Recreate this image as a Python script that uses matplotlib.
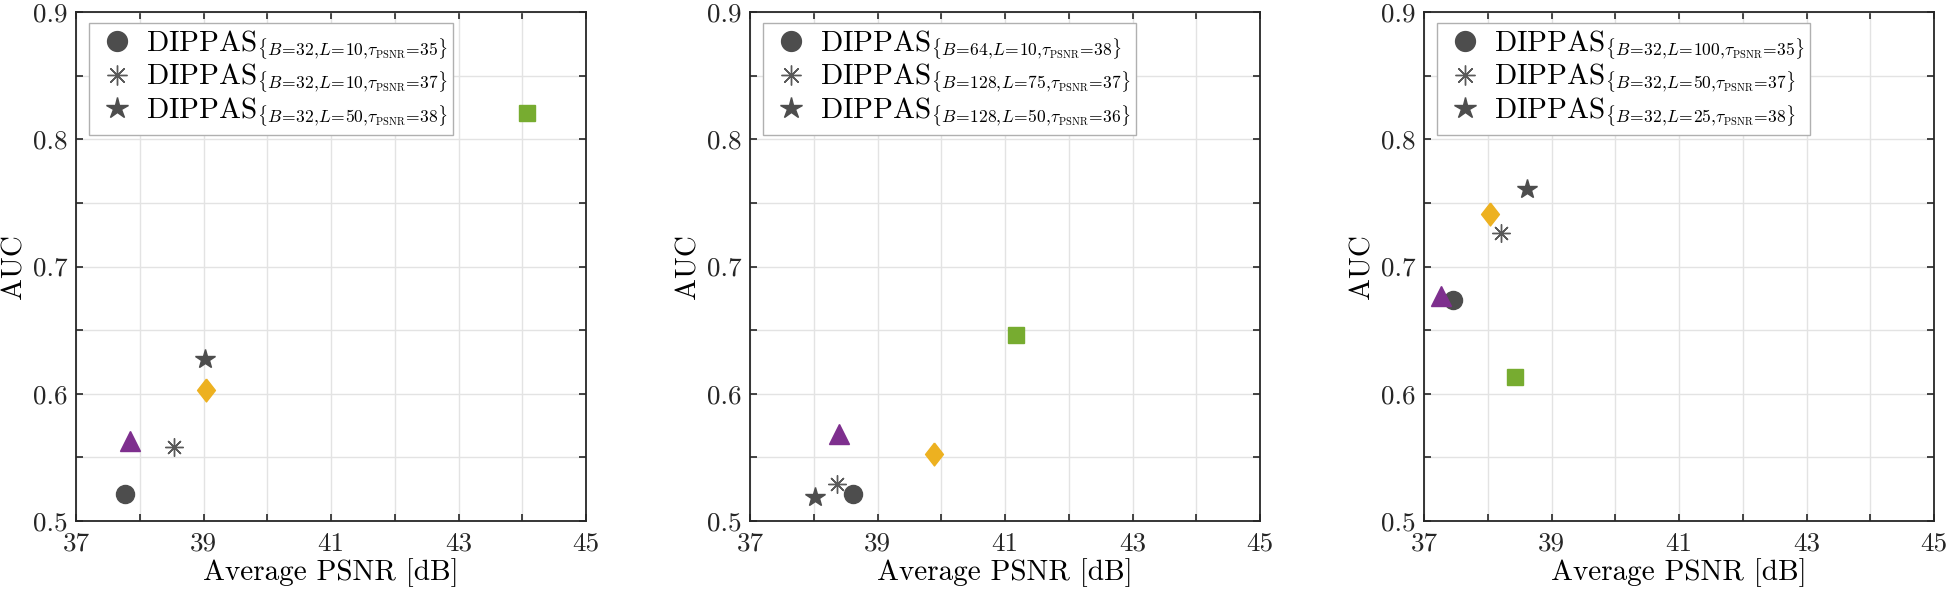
import numpy as np
import matplotlib
matplotlib.use("Agg")
import matplotlib.pyplot as plt
import matplotlib._mathtext as mt

# the original subscripts are a bit tighter than the mathtext default
mt.SHRINK_FACTOR = 0.6

plt.rcParams['font.family'] = 'serif'
plt.rcParams['font.serif'] = ['cmr10']
plt.rcParams['mathtext.fontset'] = 'cm'
plt.rcParams['axes.unicode_minus'] = False

# point order: circle, asterisk, star, triangle, diamond, square
psnr = [
    [37.77, 38.53, 39.02, 37.85, 39.04, 44.08],
    [38.62, 38.37, 38.02, 38.40, 39.89, 41.18],
    [37.46, 38.20, 38.61, 37.27, 38.03, 38.43],
]
auc = [
    [0.521, 0.558, 0.627, 0.563, 0.603, 0.821],
    [0.521, 0.529, 0.519, 0.568, 0.553, 0.646],
    [0.674, 0.726, 0.761, 0.677, 0.741, 0.613],
]
legend_params = [
    [("32", "10", "35"), ("32", "10", "37"), ("32", "50", "38")],
    [("64", "10", "38"), ("128", "75", "37"), ("128", "50", "36")],
    [("32", "100", "35"), ("32", "50", "37"), ("32", "25", "38")],
]

gray = '#4d4d4d'
diamond = [(0, 1), (0.78, 0), (0, -1), (-0.78, 0), (0, 1)]
styles = [
    dict(marker='o', ms=13, color=gray, mec=gray),
    dict(marker=(8, 2, 0), ms=13, color='none', mec='#5a5a5a', mew=1.0),
    dict(marker='*', ms=14.5, color=gray, mec=gray),
    dict(marker='^', ms=15, color='#7E2F8E', mec='#7E2F8E'),
    dict(marker=diamond, ms=16.5, color='#EDB120', mec='#EDB120'),
    dict(marker='s', ms=11.5, color='#77AC30', mec='#77AC30'),
]

fig = plt.figure(figsize=(19.46, 5.94), dpi=100)
lefts = [76, 750, 1424]

for k in range(3):
    ax = fig.add_axes([lefts[k] / 1946, 73 / 594, 510 / 1946, 509 / 594])
    handles = []
    for i, st in enumerate(styles):
        h, = ax.plot(psnr[k][i], auc[k][i], linestyle='none', zorder=3, **st)
        handles.append(h)
    ax.set_xlim(37, 45)
    ax.set_ylim(0.5, 0.9)
    xt = np.arange(37, 46, 1)
    ax.set_xticks(xt)
    ax.set_xticklabels([str(v) if v % 2 == 1 else '' for v in xt])
    yt = np.round(np.arange(0.5, 0.901, 0.05), 2)
    ax.set_yticks(yt)
    ax.set_yticklabels(['%.1f' % v if round(v * 100) % 10 == 0 else '' for v in yt])
    ax.tick_params(direction='in', length=5, width=1.2, top=True, right=True,
                   labelsize=19.5, colors='#262626', pad=8)
    ax.tick_params(axis='y', pad=6)
    ax.grid(True, color='#e3e3e3', linewidth=1.0, zorder=0)
    ax.set_axisbelow(True)
    for sp in ax.spines.values():
        sp.set_linewidth(1.3)
        sp.set_color('#262626')
    ax.set_xlabel('Average PSNR [dB]', fontsize=21, labelpad=2)
    ax.set_ylabel('AUC', fontsize=21, labelpad=4)
    labels = [r'$\mathrm{DIPPAS}_{\{B\!=\!%s,\!L\!=\!%s,\!\tau_{\mathrm{PSNR}}\!=\!%s\}}$' % p
              for p in legend_params[k]]
    leg = ax.legend(handles[:3], labels, loc='upper left', fontsize=21,
                    bbox_to_anchor=(0.0255, 0.978), frameon=True, fancybox=False,
                    framealpha=1, edgecolor='#b0b0b0', handlelength=1.5,
                    handletextpad=0.25, borderpad=0.2, labelspacing=0.0,
                    borderaxespad=0, markerscale=1.1)
    leg.get_frame().set_linewidth(1.0)

fig.savefig('out.png', dpi=100)
